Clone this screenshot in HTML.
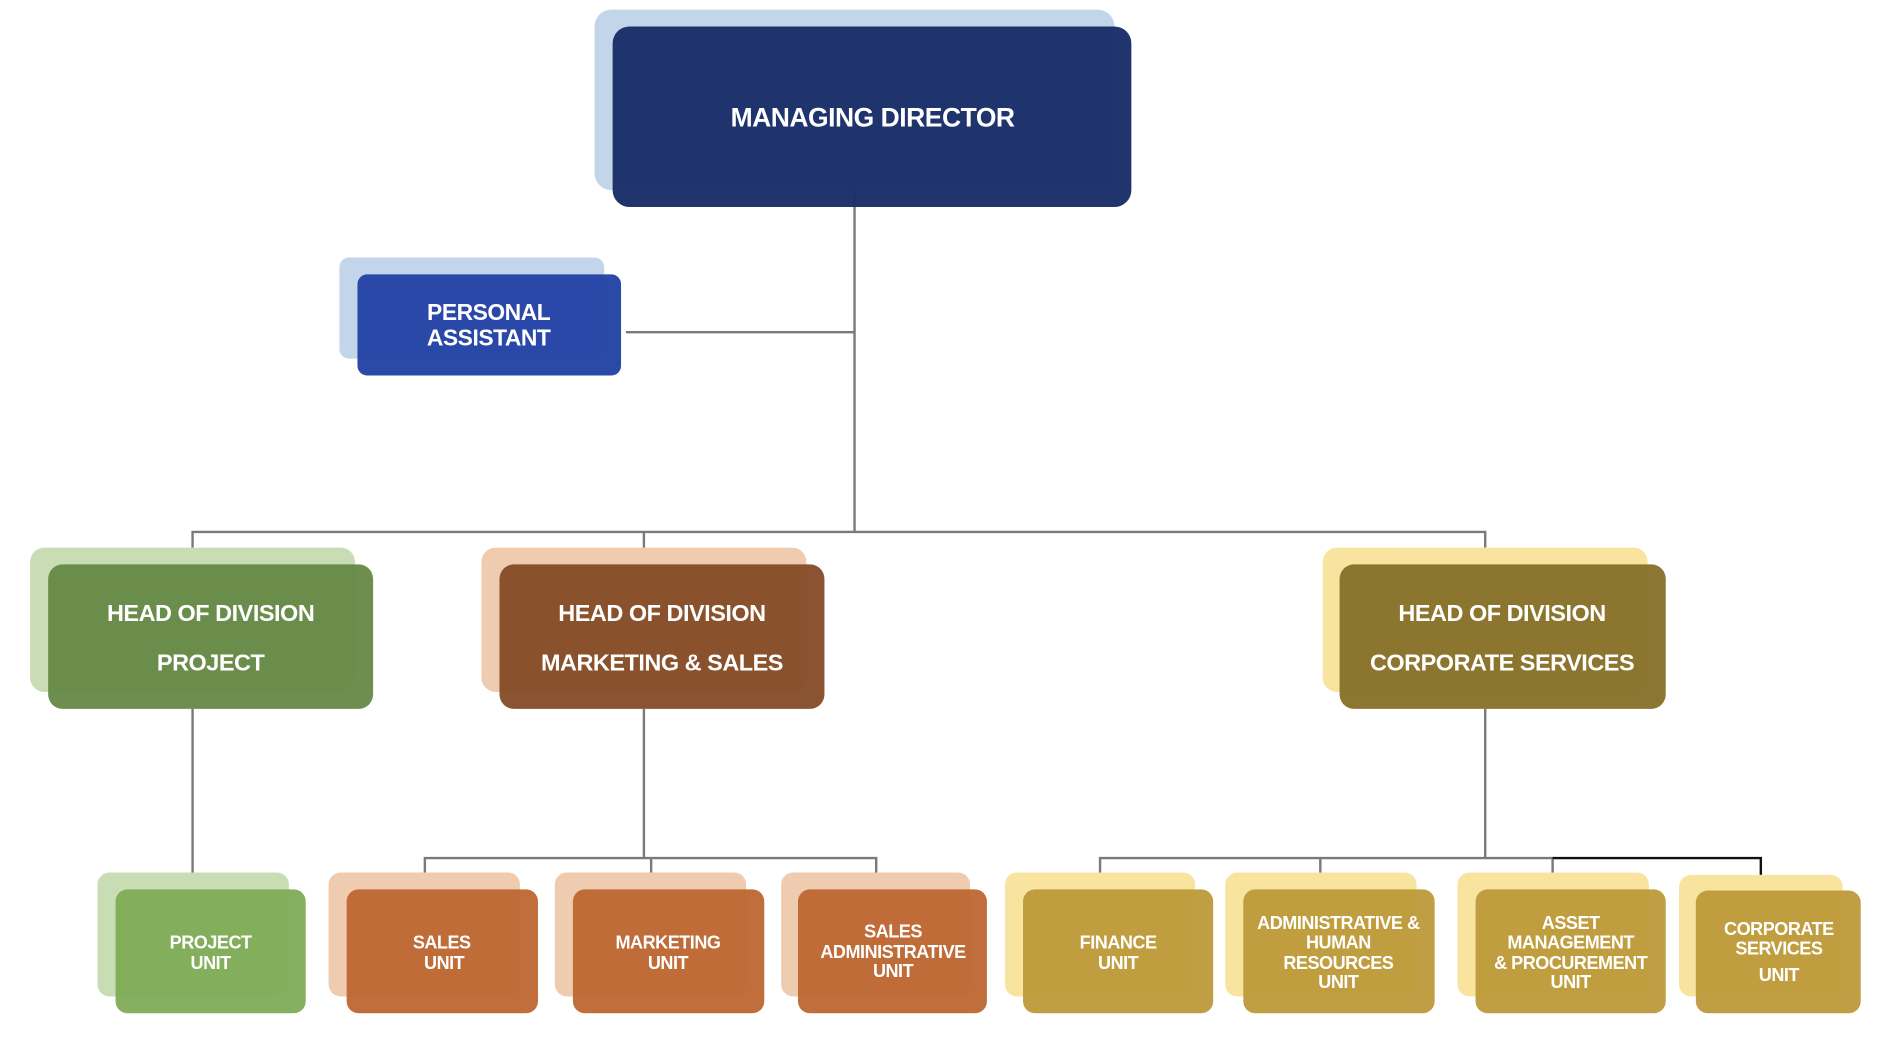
<!DOCTYPE html>
<html><head><meta charset="utf-8"><style>
html,body{margin:0;padding:0;background:#fff;width:1886px;height:1050px;overflow:hidden}
svg{display:block}
text{font-family:"Liberation Sans",Arial,sans-serif;font-weight:bold;fill:#fff;text-anchor:middle;letter-spacing:-0.4px}
</style></head><body>
<svg width="1886" height="1050" viewBox="0 0 1567 872.5" preserveAspectRatio="none" xmlns="http://www.w3.org/2000/svg">
<g fill="none" stroke="#7a7a7a" stroke-width="2">
<path d="M710 158V442M520 276H709M160 455V442H1234V455M535 442V455"/>
<path d="M160 589V725M535 589V713M353 725V713H728V725M541 713V725"/>
<path d="M1234 589V713M914 725V713H1290V725M1097 713V725"/>
</g>
<path d="M1290 713H1463V727" fill="none" stroke="#111" stroke-width="2"/>

<rect x="494" y="8" width="432" height="150" rx="14" fill="#c2d5ea"/>
<rect x="509" y="22" width="431" height="150" rx="14" fill="#1a2d68" opacity="0.97"/>
<text x="725" y="105" font-size="22">MANAGING DIRECTOR</text>

<rect x="282" y="214" width="220" height="84" rx="8" fill="#c2d5ea"/>
<rect x="297" y="228" width="219" height="84" rx="8" fill="#2443a4" opacity="0.97"/>
<text x="406" y="266" font-size="19">PERSONAL</text>
<text x="406" y="287" font-size="19">ASSISTANT</text>

<rect x="25" y="455" width="270" height="120" rx="12" fill="#c9ddb5"/>
<rect x="40" y="469" width="270" height="120" rx="12" fill="#668846" opacity="0.95"/>
<text x="175" y="516" font-size="19.5">HEAD OF DIVISION</text>
<text x="175" y="557" font-size="19.5">PROJECT</text>

<rect x="400" y="455" width="270" height="120" rx="12" fill="#efcbb0"/>
<rect x="415" y="469" width="270" height="120" rx="12" fill="#844a26" opacity="0.95"/>
<text x="550" y="516" font-size="19.5">HEAD OF DIVISION</text>
<text x="550" y="557" font-size="19.5">MARKETING &amp; SALES</text>

<rect x="1099" y="455" width="270" height="120" rx="12" fill="#f8e49e"/>
<rect x="1113" y="469" width="271" height="120" rx="12" fill="#87702a" opacity="0.96"/>
<text x="1248" y="516" font-size="19.5">HEAD OF DIVISION</text>
<text x="1248" y="557" font-size="19.5">CORPORATE SERVICES</text>

<g font-size="15">
<rect x="81" y="725" width="159" height="103" rx="10" fill="#c9ddb5"/>
<rect x="96" y="739" width="158" height="103" rx="10" fill="#7fab57" opacity="0.95"/>
<text x="175" y="788">PROJECT</text><text x="175" y="805">UNIT</text>

<rect x="273" y="725" width="159" height="103" rx="10" fill="#efcbb0"/>
<rect x="288" y="739" width="159" height="103" rx="10" fill="#bc6632" opacity="0.95"/>
<text x="367" y="788">SALES</text><text x="369" y="805">UNIT</text>

<rect x="461" y="725" width="159" height="103" rx="10" fill="#efcbb0"/>
<rect x="476" y="739" width="159" height="103" rx="10" fill="#bc6632" opacity="0.95"/>
<text x="555" y="788">MARKETING</text><text x="555" y="805">UNIT</text>

<rect x="649" y="725" width="157" height="103" rx="10" fill="#efcbb0"/>
<rect x="663" y="739" width="157" height="103" rx="10" fill="#bc6632" opacity="0.95"/>
<text x="742" y="779">SALES</text><text x="742" y="796">ADMINISTRATIVE</text><text x="742" y="812">UNIT</text>

<rect x="835" y="725" width="158" height="103" rx="10" fill="#f8e49e"/>
<rect x="850" y="739" width="158" height="103" rx="10" fill="#bd9a3a" opacity="0.95"/>
<text x="929" y="788">FINANCE</text><text x="929" y="805">UNIT</text>

<rect x="1018" y="725" width="159" height="103" rx="10" fill="#f8e49e"/>
<rect x="1033" y="739" width="159" height="103" rx="10" fill="#bd9a3a" opacity="0.95"/>
<text x="1112" y="772">ADMINISTRATIVE &amp;</text><text x="1112" y="788">HUMAN</text><text x="1112" y="805">RESOURCES</text><text x="1112" y="821">UNIT</text>

<rect x="1211" y="725" width="159" height="103" rx="10" fill="#f8e49e"/>
<rect x="1226" y="739" width="158" height="103" rx="10" fill="#bd9a3a" opacity="0.95"/>
<text x="1305" y="772">ASSET</text><text x="1305" y="788">MANAGEMENT</text><text x="1305" y="805">&amp; PROCUREMENT</text><text x="1305" y="821">UNIT</text>

<rect x="1395" y="727" width="136" height="101" rx="10" fill="#f8e49e"/>
<rect x="1409" y="740" width="137" height="102" rx="10" fill="#bd9a3a" opacity="0.95"/>
<text x="1478" y="777">CORPORATE</text><text x="1478" y="793">SERVICES</text><text x="1478" y="815">UNIT</text>
</g>
</svg>
</body></html>
